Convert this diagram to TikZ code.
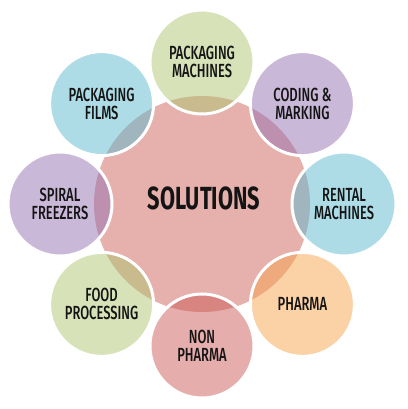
\documentclass[tikz,border=0pt]{standalone}
\usepackage{fontspec}
\newfontfamily\labelfont[FakeStretch=0.68,UprightFont={* Medium},BoldFont={* Bold}]{Fira Sans}
\definecolor{solpink}{RGB}{230,177,172}
\definecolor{pgreen}{RGB}{175,197,115}
\definecolor{ppurple}{RGB}{147,113,177}
\definecolor{pblue}{RGB}{91,185,207}
\definecolor{porange}{RGB}{247,163,77}
\definecolor{pred}{RGB}{203,91,87}
\begin{document}
\begin{tikzpicture}[x=1pt, y=1pt,
    part/.style={circle, minimum size=104pt, draw=white, line width=3pt,
        fill opacity=.5, text opacity=1, align=center, text=black!92,
        font=\labelfont\fontsize{19}{18}\selectfont}]
\useasboundingbox (-202,-205) rectangle (205,204);
\fill[solpink] (0,0) circle (108);
\node[font=\labelfont\bfseries\fontsize{32}{32}\selectfont, text=black!92] (sol) at (2,6) {SOLUTIONS};
\foreach \a/\col/\txt [count=\i] in {90/pgreen/{PACKAGING\\MACHINES}, 45/ppurple/{CODING \&\\MARKING},
    0/pblue/{RENTAL\\MACHINES}, -45/porange/{PHARMA}, -90/pred/{NON\\PHARMA},
    -135/pgreen/{FOOD\\PROCESSING}, 180/ppurple/{SPIRAL\\FREEZERS}, 135/pblue/{PACKAGING\\FILMS}}
{
    \node[part, fill=\col] (c\i) at (\a:142) {\txt};
}
\end{tikzpicture}
\end{document}
